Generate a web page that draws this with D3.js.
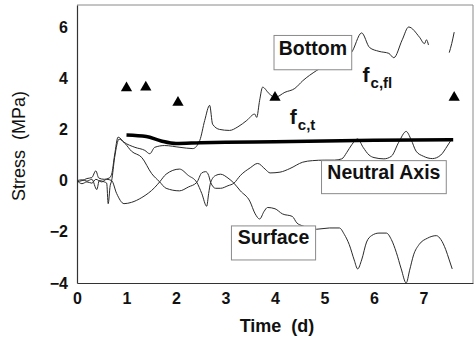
<!DOCTYPE html>
<html>
<head>
<meta charset="utf-8">
<script src="https://cdn.jsdelivr.net/npm/d3@7"></script>
<style>
  body { margin: 0; background: #fff; }
  text { font-family: Arial, "Liberation Sans", Helvetica, sans-serif; }
</style>
</head>
<body>
<script>
// Chart size
const WIDTH = 474;
const HEIGHT = 338;
const margin = { top: 5, right: 1, bottom: 55, left: 77 };

// Axis ticks
const xTicks = [0, 1, 2, 3, 4, 5, 6, 7];
const yTicks = [-4, -2, 0, 2, 4, 6];

// Stress curves, [time (d), stress (MPa)]
const bottomSeries = [
  [0, -0.05], [0.1, 0.0], [0.2, 0.08], [0.3, 0.12], [0.38, 0.38], [0.44, 0.1],
  [0.55, 0.05], [0.65, 0.1], [0.7, 0.25], [0.76, 1.0], [0.83, 1.7], [0.95, 1.5],
  [1.17, 1.3], [1.37, 1.18], [1.47, 1.05], [1.57, 1.3], [1.77, 1.37], [2.08, 1.3],
  [2.34, 1.25], [2.48, 1.57], [2.58, 2.35], [2.68, 2.94], [2.74, 2.2], [2.88, 2.0],
  [3.08, 1.96], [3.25, 2.1], [3.43, 2.35], [3.59, 2.6], [3.63, 2.47], [3.69, 3.14],
  [3.75, 3.65], [3.88, 3.4], [4.0, 3.25], [4.2, 3.45], [4.4, 3.6], [4.56, 3.9],
  [4.84, 4.3], [5.2, 4.7], [5.54, 5.0], [5.75, 5.77], [5.91, 5.2], [6.1, 5.05],
  [6.3, 4.97], [6.4, 4.8], [6.57, 5.5], [6.7, 6.0], [6.92, 5.6], [7.02, 5.35],
  [7.06, 5.5], [7.1, 5.3]
];
const bottomTail = [[7.52, 5.0], [7.57, 5.35], [7.62, 5.8]];

const neutralSeries = [
  [0, 0.0], [0.1, 0.03], [0.2, -0.02], [0.3, 0.05], [0.4, -0.35], [0.45, 0.0],
  [0.55, -0.05], [0.6, -0.1], [0.63, -0.9], [0.67, -0.2], [0.7, 0.0], [0.76, 0.9],
  [0.85, 1.62], [0.97, 1.45], [1.1, 1.15], [1.31, 0.9], [1.51, 0.27], [1.67, -0.05],
  [1.8, -0.3], [2.07, -0.4], [2.25, -0.25], [2.42, -0.07], [2.52, 0.3], [2.6, 0.35],
  [2.66, 0.2], [2.7, -0.07], [2.8, -0.3], [2.9, -0.3], [3.05, -0.2], [3.17, -0.1],
  [3.3, 0.2], [3.5, 0.5], [3.65, 0.67], [3.8, 0.45], [3.9, 0.3], [4.1, 0.33],
  [4.3, 0.47], [4.56, 0.72], [4.76, 0.78], [5.0, 0.8], [5.2, 0.8], [5.35, 0.85],
  [5.45, 1.1], [5.55, 1.4], [5.67, 1.63], [5.78, 1.3], [5.9, 1.0], [6.0, 0.9],
  [6.2, 0.85], [6.35, 0.95], [6.5, 1.5], [6.65, 1.92], [6.75, 1.6], [6.85, 1.15],
  [7.0, 0.95], [7.18, 0.86], [7.35, 1.0], [7.48, 1.35], [7.58, 1.65]
];

const surfaceSeries = [
  [0, 0.0], [0.1, -0.12], [0.2, -0.05], [0.3, -0.1], [0.38, 0.05], [0.5, -0.05],
  [0.6, 0.05], [0.7, 0.0], [0.8, -0.5], [0.95, -0.9], [1.1, -0.85], [1.31, -0.66],
  [1.57, -0.27], [1.67, -0.05], [1.8, 0.25], [2.07, 0.45], [2.25, 0.2], [2.42, -0.07],
  [2.52, -0.5], [2.62, -1.0], [2.66, -0.5], [2.7, -0.07], [2.8, 0.2], [2.9, 0.25],
  [3.05, 0.1], [3.17, -0.1], [3.3, -0.4], [3.49, -0.8], [3.6, -1.3], [3.69, -1.5],
  [3.78, -1.2], [3.85, -1.05], [4.0, -1.1], [4.15, -1.3], [4.35, -1.4], [4.44, -1.65],
  [4.56, -1.77], [4.84, -1.9], [5.1, -1.85], [5.3, -1.85], [5.4, -2.1], [5.5, -2.5],
  [5.6, -3.1], [5.67, -3.45], [5.75, -3.1], [5.85, -2.4], [5.95, -2.15], [6.1, -2.05],
  [6.25, -2.05], [6.35, -2.3], [6.45, -2.8], [6.55, -3.45], [6.65, -4.0], [6.72, -3.5],
  [6.8, -2.9], [6.91, -2.5], [7.08, -2.25], [7.26, -2.15], [7.35, -2.3], [7.45, -2.7],
  [7.52, -3.1], [7.58, -3.45]
];

// Tensile strength f_c,t (thick line)
const fctSeries = [
  [1.0, 1.78], [1.4, 1.72], [1.7, 1.55], [2.0, 1.45], [2.5, 1.48], [3.0, 1.5],
  [4.0, 1.52], [5.0, 1.55], [6.0, 1.58], [7.6, 1.6]
];

// Flexural strength f_c,fl (triangles)
const fcflTime = [1.0, 1.39, 2.04, 4.0, 7.62];
const fcflStress = [3.62, 3.65, 3.05, 3.25, 3.25];

function initCanvas() {
  return d3.select('body')
    .append('svg')
    .attr('width', WIDTH)
    .attr('height', HEIGHT);
}

const svg = initCanvas();

const x = d3.scaleLinear().domain([0, 8]).range([margin.left, WIDTH - margin.right]);
const y = d3.scaleLinear().domain([-4, 6.86]).range([HEIGHT - margin.bottom, margin.top]);

// top / right frame (faint)
svg.append('path')
  .attr('d', `M${x(0)},${y(6.86)}H${x(8)}V${y(-4)}`)
  .attr('fill', 'none')
  .attr('stroke', '#8a8a8a')
  .attr('stroke-width', 1);

// axes
const xAxis = svg.append('g')
  .attr('transform', `translate(0,${y(-4)})`)
  .call(d3.axisBottom(x).tickValues(xTicks).tickSize(0).tickPadding(10).tickFormat(d3.format('d')));
const yAxis = svg.append('g')
  .attr('transform', `translate(${x(0)},0)`)
  .call(d3.axisLeft(y).tickValues(yTicks).tickSize(0).tickPadding(9).tickFormat(d3.format('d')));

[xAxis, yAxis].forEach(g => {
  g.select('.domain').attr('stroke', '#333').attr('stroke-width', 1.2);
  g.selectAll('text')
    .attr('font-size', 16)
    .attr('font-weight', 'bold')
    .attr('fill', '#111');
});

// axis titles
svg.append('text')
  .attr('x', 277)
  .attr('y', 332)
  .attr('text-anchor', 'middle')
  .attr('font-size', 18)
  .attr('font-weight', 'bold')
  .attr('fill', '#111')
  .style('white-space', 'pre')
  .text('Time  (d)');

svg.append('text')
  .attr('transform', 'translate(25,146) rotate(-90)')
  .attr('text-anchor', 'middle')
  .attr('font-size', 18)
  .attr('fill', '#111')
  .style('white-space', 'pre')
  .text('Stress  (MPa)');

const line = d3.line()
  .x(d => x(d[0]))
  .y(d => y(d[1]))
  .curve(d3.curveMonotoneX);

// thin stress curves
[surfaceSeries, neutralSeries, bottomSeries, bottomTail].forEach(s => {
  svg.append('path')
    .datum(s)
    .attr('d', line)
    .attr('fill', 'none')
    .attr('stroke', '#2a2a2a')
    .attr('stroke-width', 1)
    .attr('stroke-linejoin', 'round');
});

// f_c,t thick line
svg.append('path')
  .datum(fctSeries)
  .attr('d', line)
  .attr('fill', 'none')
  .attr('stroke', '#000')
  .attr('stroke-width', 3.5);

// f_c,fl triangles
svg.selectAll('.tri')
  .data(fcflTime.map((t, i) => [t, fcflStress[i]]))
  .join('path')
  .attr('class', 'tri')
  .attr('transform', d => `translate(${x(d[0])},${y(d[1])})`)
  .attr('d', d3.symbol(d3.symbolTriangle, 55))
  .attr('fill', '#000');

// label boxes (anchored in data coordinates)
function labelBox(t0, v0, t1, v1, label, ty) {
  svg.append('rect')
    .attr('x', x(t0))
    .attr('y', y(v0))
    .attr('width', x(t1) - x(t0))
    .attr('height', y(v1) - y(v0))
    .attr('fill', '#fff')
    .attr('stroke', '#8a8a8a')
    .attr('stroke-width', 1);
  svg.append('text')
    .attr('x', (x(t0) + x(t1)) / 2)
    .attr('y', y(ty))
    .attr('text-anchor', 'middle')
    .attr('font-size', 19.5)
    .attr('font-weight', 'bold')
    .attr('fill', '#111')
    .text(label);
}

labelBox(3.98, 5.67, 5.55, 4.33, 'Bottom', 4.9);
labelBox(4.94, 0.78, 7.46, -0.51, 'Neutral Axis', 0.08);
labelBox(3.12, -1.77, 4.82, -3.1, 'Surface', -2.48);

// strength labels with subscripts
function subLabel(t, v, sub) {
  const txt = svg.append('text')
    .attr('x', x(t))
    .attr('y', y(v))
    .attr('font-size', 21)
    .attr('font-weight', 'bold')
    .attr('fill', '#111');
  txt.append('tspan').text('f');
  txt.append('tspan')
    .attr('dy', 6)
    .attr('dx', 1)
    .attr('font-size', 15)
    .text(sub);
}

subLabel(4.3, 2.2, 'c,t');
subLabel(5.77, 3.87, 'c,fl');
</script>
</body>
</html>
